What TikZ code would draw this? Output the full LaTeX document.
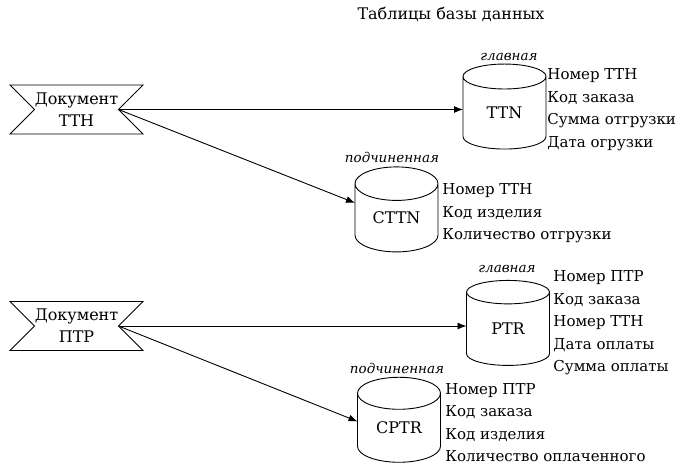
\documentclass[tikz,border=0pt]{standalone}
\usepackage{fontspec}
\setmainfont{DejaVu Serif}
\usetikzlibrary{shapes.geometric, shapes.symbols, arrows.meta}

\begin{document}
\begin{tikzpicture}[x=1pt, y=-1pt, line width=0.9pt,
  doc/.style={signal, signal from=west and east, signal to=nowhere,
    signal pointer angle=90, draw, minimum width=133pt, minimum height=49pt,
    inner sep=0pt, outer sep=0pt, align=center, font=\fontsize{16}{22}\selectfont},
  db/.style={cylinder, shape border rotate=90, aspect=0.7, draw,
    minimum width=83pt, minimum height=85pt, inner sep=0pt, outer sep=0pt,
    font=\fontsize{16}{19}\selectfont},
  role/.style={font=\fontsize{13.5}{16}\selectfont\itshape},
  fields/.style={anchor=west, align=left, inner sep=0pt,
    font=\fontsize{15}{22.5}\selectfont},
  link/.style={-{Latex[length=9pt,width=7pt]}}]
\useasboundingbox (0,0) rectangle (680,466);

\node[font=\fontsize{16}{19}\selectfont] (title) at (451,14) {Таблицы базы данных};

% documents
\node[doc] (docttn) at (76.5,109.5) {Документ\\ТТН};
\node[doc] (docptr) at (76.5,326) {Документ\\ПТР};

% tables
\node[db] (ttn) at (504.5,113) {TTN};
\node[db] (cttn) at (396.5,218) {CTTN};
\node[db] (ptr) at (508,329) {PTR};
\node[db] (cptr) at (399,428) {CPTR};

\node[role] (ttnrole) at (509,57) {главная};
\node[role] (cttnrole) at (392,157) {подчиненная};
\node[role] (ptrrole) at (507,269) {главная};
\node[role] (cptrrole) at (397,368) {подчиненная};

\node[fields] (ttnfields) at (547,109.5) {Номер ТТН\\Код заказа\\Сумма отгрузки\\Дата огрузки};
\node[fields] (cttnfields) at (442,213.5) {Номер ТТН\\Код изделия\\Количество отгрузки};
\node[fields] (ptrfields) at (553,323) {Номер ПТР\\Код заказа\\Номер ТТН\\Дата оплаты\\Сумма оплаты};
\node[fields] (cptrfields) at (445,422.5) {Номер ПТР\\Код заказа\\Код изделия\\Количество оплаченного};

% links
\draw[link] (docttn.east) -- (docttn.east -| ttn.west);
\draw[link] (docttn.east) -- (cttn.160);
\draw[link] (docptr.east) -- (docptr.east -| ptr.west);
\draw[link] (docptr.east) -- (cptr.171);
\end{tikzpicture}
\end{document}
